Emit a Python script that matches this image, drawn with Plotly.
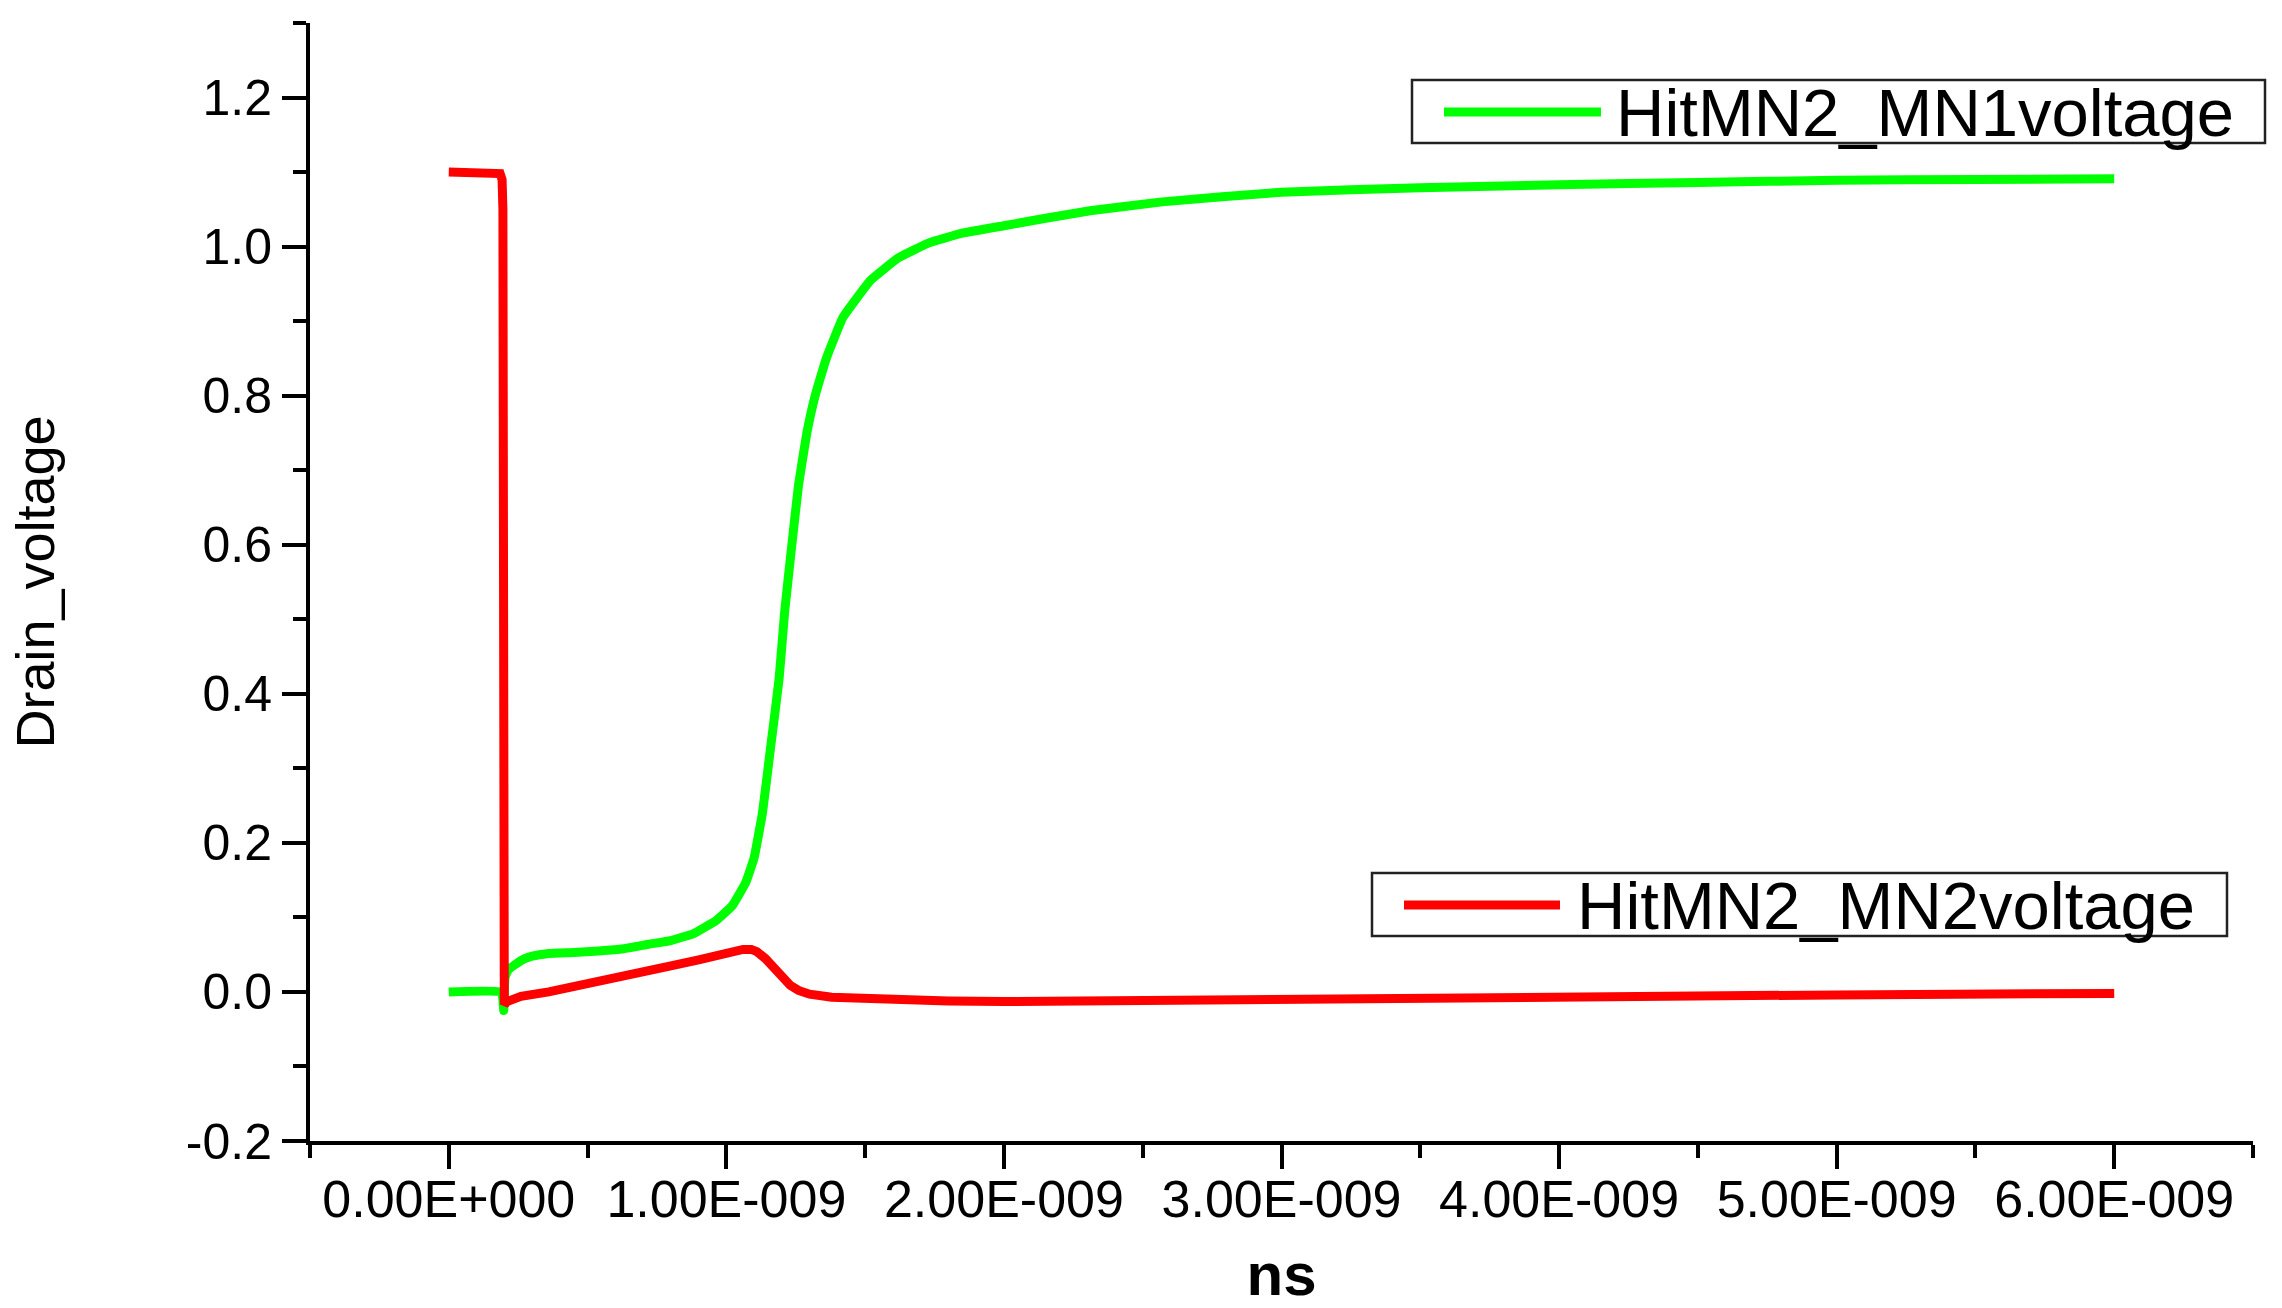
import plotly.graph_objects as go

# ---------------- data (time in ns, voltage in V) ----------------
mn1_time_ns = [0, 0.19, 0.198, 0.2, 0.203, 0.215, 0.24, 0.27, 0.30, 0.36, 0.45, 0.54,
               0.63, 0.72, 0.80, 0.88, 0.96, 1.02, 1.07, 1.10, 1.13, 1.16, 1.19, 1.21,
               1.236, 1.26, 1.29, 1.32, 1.36, 1.42, 1.52, 1.62, 1.73, 1.85, 2.0, 2.15,
               2.31, 2.57, 3.0, 3.5, 4.0, 4.5, 5.0, 5.5, 6.0]
mn1_voltage = [0, 0, -0.025, 0.0, 0.02, 0.03, 0.037, 0.044, 0.048, 0.0517, 0.053, 0.055,
               0.058, 0.064, 0.069, 0.078, 0.095, 0.115, 0.147, 0.18, 0.24, 0.33, 0.42, 0.51,
               0.60, 0.68, 0.75, 0.80, 0.85, 0.905, 0.955, 0.985, 1.005, 1.018, 1.028, 1.038,
               1.048, 1.06, 1.073, 1.079, 1.083, 1.086, 1.089, 1.09, 1.091]

mn2_time_ns = [0, 0.17, 0.185, 0.192, 0.195, 0.197, 0.2, 0.21, 0.26, 0.36, 0.5, 0.66,
               0.8, 0.9, 1.0, 1.03, 1.06, 1.09, 1.11, 1.14, 1.17, 1.2, 1.23, 1.26, 1.3,
               1.38, 1.5, 1.62, 1.8, 2.0, 2.5, 3.0, 4.0, 5.0, 6.0]
mn2_voltage = [1.1, 1.1, 1.098, 1.09, 1.05, 0.6, -0.017, -0.013, -0.006, 0.0, 0.012, 0.024,
               0.035, 0.043, 0.052, 0.055, 0.057, 0.057, 0.054, 0.045, 0.032, 0.02, 0.009,
               0.002, -0.003, -0.007, -0.009, -0.011, -0.012, -0.013, -0.011, -0.009,
               -0.006, -0.004, -0.002]

x_tick_vals = [0, 1, 2, 3, 4, 5, 6]
x_tick_text = ["0.00E+000", "1.00E-009", "2.00E-009", "3.00E-009",
               "4.00E-009", "5.00E-009", "6.00E-009"]
y_tick_vals = [-0.2, 0.0, 0.2, 0.4, 0.6, 0.8, 1.0, 1.2]
y_tick_text = ["-0.2", "0.0", "0.2", "0.4", "0.6", "0.8", "1.0", "1.2"]

series_names = ["HitMN2_MN1voltage", "HitMN2_MN2voltage"]
series_colors = ["#00FF00", "#FF0000"]

# ---------------- figure ----------------
W, H = 2282, 1308
L, R, T, B = 310, 2253, 23, 1141   # plot area in pixels
FONT = "Liberation Sans, Arial, sans-serif"
LW = 9

fig = go.Figure()
fig.add_trace(go.Scatter(x=mn1_time_ns, y=mn1_voltage, mode="lines", name=series_names[0],
                         line=dict(color=series_colors[0], width=LW, shape="spline", smoothing=0.3),
                         showlegend=False))
fig.add_trace(go.Scatter(x=mn2_time_ns, y=mn2_voltage, mode="lines", name=series_names[1],
                         line=dict(color=series_colors[1], width=LW),
                         showlegend=False))


def px(xp):
    return (xp - L) / (R - L)


def py(yp):
    return (B - yp) / (B - T)


# manual legends (long line samples, as in the reference)
legend_boxes = [
    dict(box=(1412, 80, 2265, 143), line=(1444, 1601, 112), text_x=1614),
    dict(box=(1372, 873, 2227, 936), line=(1404, 1560, 905), text_x=1575),
]
shapes = []
annotations = []
for i, lb in enumerate(legend_boxes):
    x0, y0, x1, y1 = lb["box"]
    shapes.append(dict(type="rect", xref="paper", yref="paper",
                       x0=px(x0), x1=px(x1), y0=py(y1), y1=py(y0),
                       line=dict(color="#222222", width=2.5), fillcolor="white", layer="above"))
    lx0, lx1, ly = lb["line"]
    shapes.append(dict(type="line", xref="paper", yref="paper",
                       x0=px(lx0), x1=px(lx1), y0=py(ly), y1=py(ly),
                       line=dict(color=series_colors[i], width=LW), layer="above"))
    annotations.append(dict(xref="paper", yref="paper", x=px(lb["text_x"]), y=py(ly),
                            text=series_names[i], showarrow=False, xanchor="left",
                            yanchor="middle", font=dict(family=FONT, size=67, color="black")))

fig.update_layout(
    width=W, height=H,
    margin=dict(l=L, r=W - R, t=T, b=H - B, pad=0),
    paper_bgcolor="white", plot_bgcolor="white",
    font=dict(family=FONT, color="black"),
    shapes=shapes, annotations=annotations,
    showlegend=False,
)
fig.update_xaxes(
    range=[-0.5, 6.5], showgrid=False, zeroline=False,
    showline=True, linecolor="black", linewidth=4,
    ticks="outside", ticklen=24, tickwidth=3.5, tickcolor="black",
    tickmode="array", tickvals=x_tick_vals, ticktext=x_tick_text,
    tickfont=dict(family=FONT, size=52, color="black"),
    ticklabelstandoff=-14,
    minor=dict(tickmode="array", tickvals=[-0.5, 0.5, 1.5, 2.5, 3.5, 4.5, 5.5, 6.5],
               ticks="outside", ticklen=13, tickwidth=3.5, tickcolor="black", showgrid=False),
    title=dict(text="<b>ns</b>", font=dict(family=FONT, size=60, color="black"), standoff=46),
    automargin=False,
)
fig.update_yaxes(
    range=[-0.2, 1.3], showgrid=False, zeroline=False,
    showline=True, linecolor="black", linewidth=4,
    ticks="outside", ticklen=24, tickwidth=3.5, tickcolor="black",
    tickmode="array", tickvals=y_tick_vals, ticktext=y_tick_text,
    tickfont=dict(family=FONT, size=50, color="black"),
    minor=dict(tickmode="array", tickvals=[-0.1, 0.1, 0.3, 0.5, 0.7, 0.9, 1.1, 1.3],
               ticks="outside", ticklen=13, tickwidth=3.5, tickcolor="black", showgrid=False),
    title=dict(text="Drain_voltage", font=dict(family=FONT, size=54, color="black"), standoff=115),
    automargin=False,
)

fig.write_html("out.html", config={"displayModeBar": False},
               post_script="document.body.style.margin='0px';document.body.style.overflow='hidden';")
